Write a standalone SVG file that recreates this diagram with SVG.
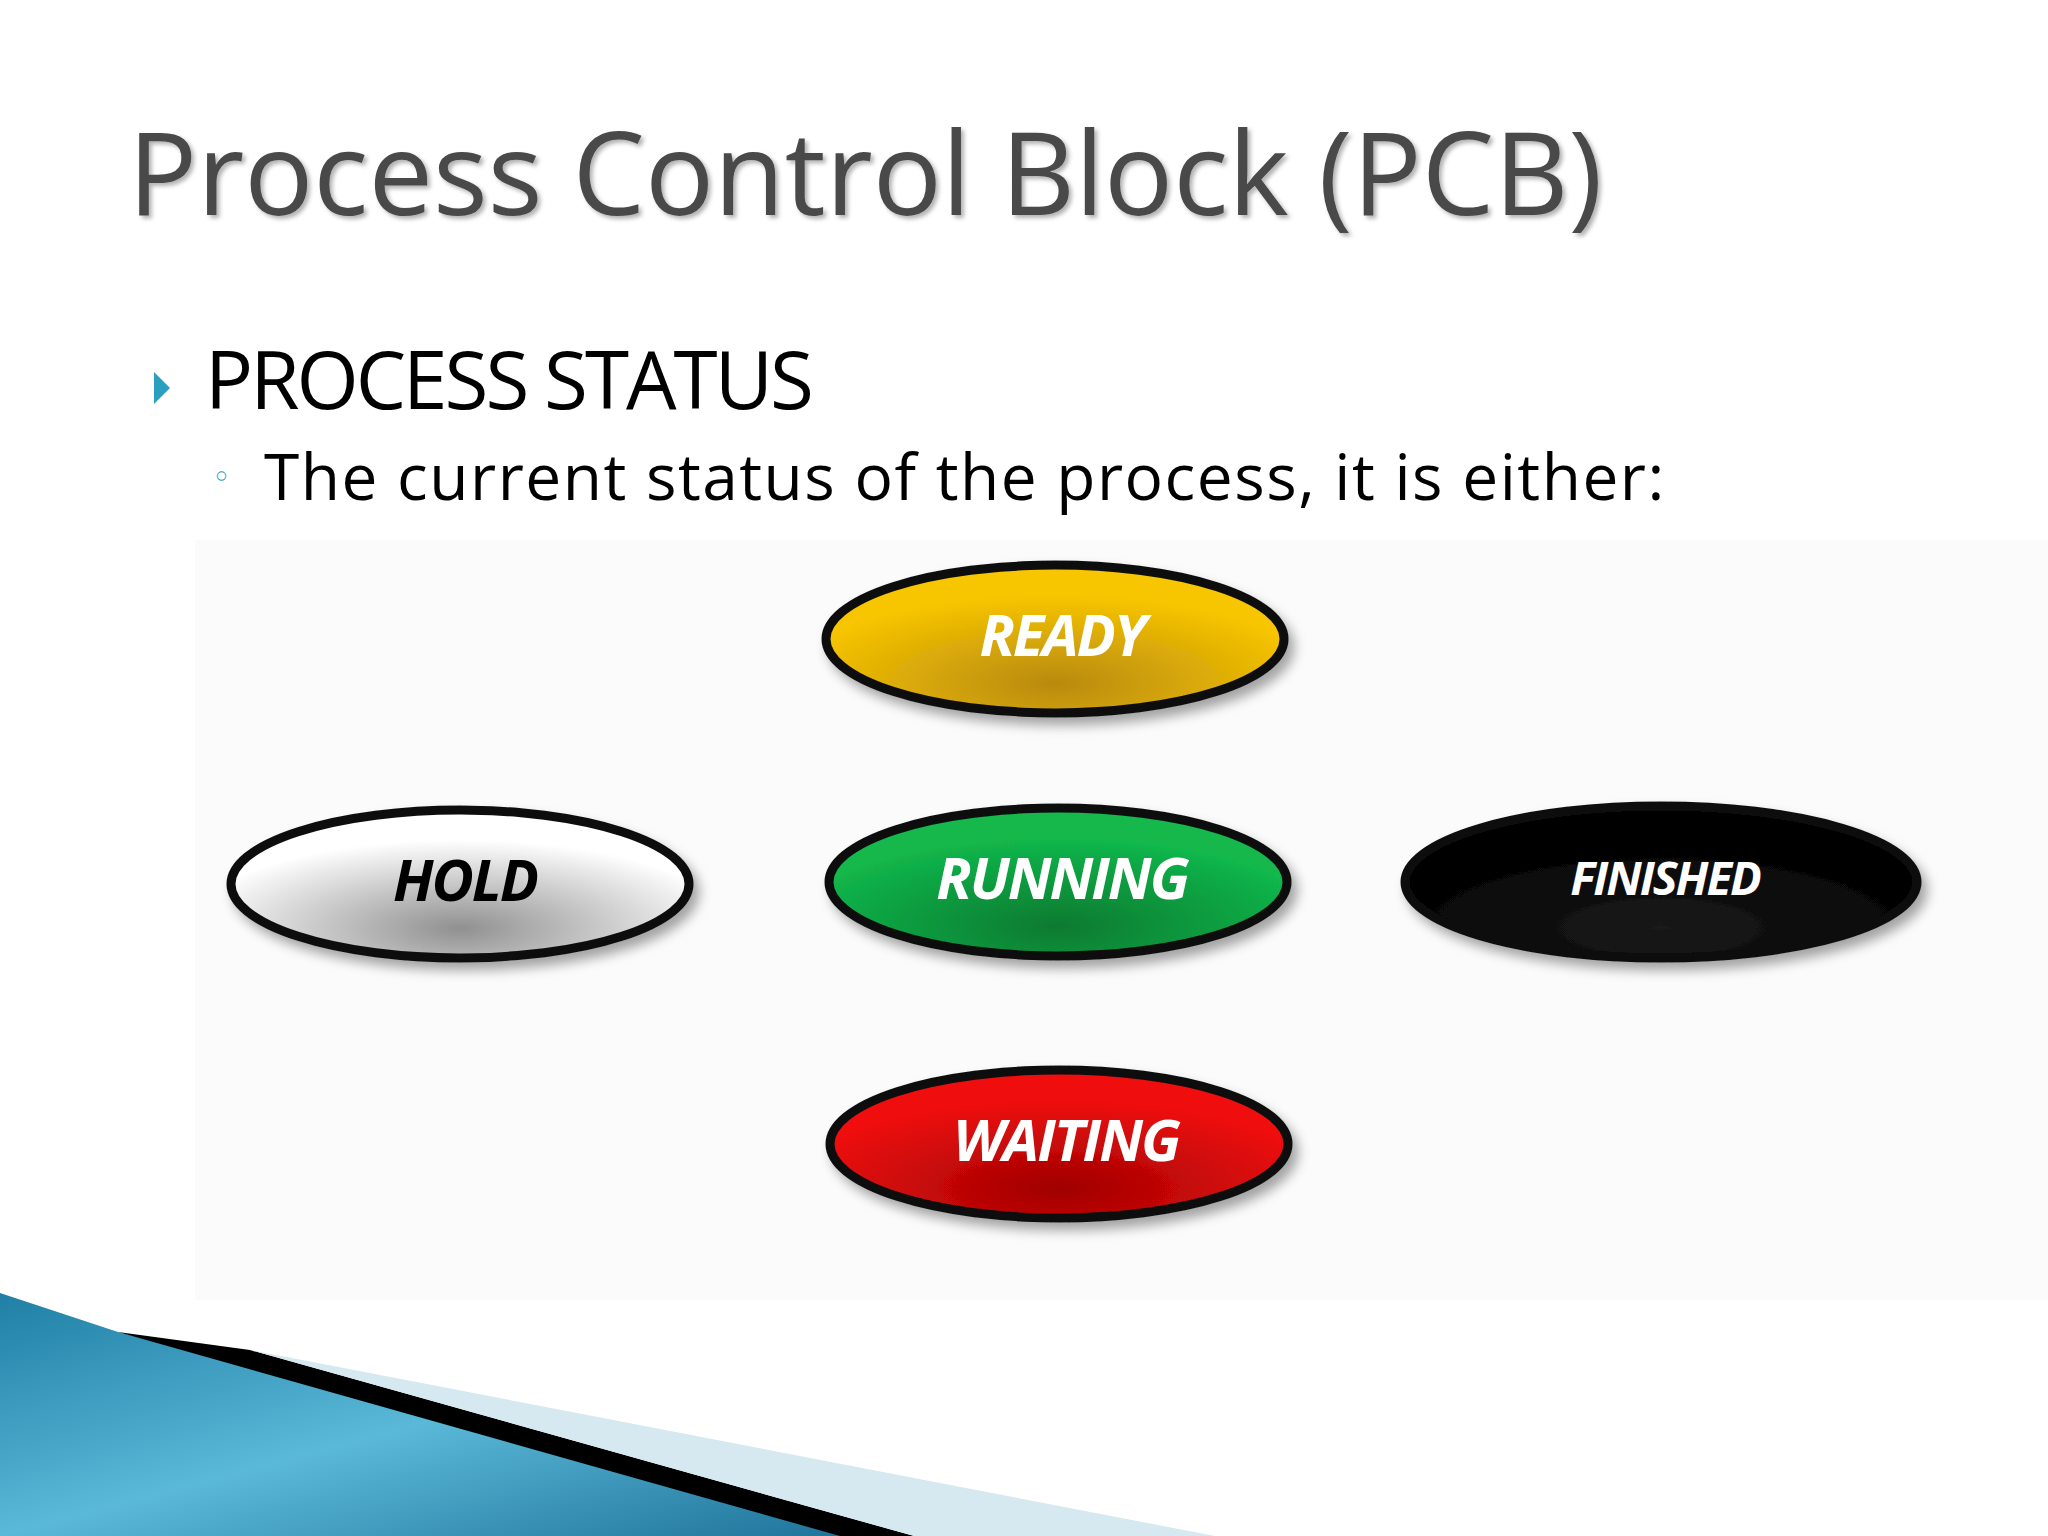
<svg xmlns="http://www.w3.org/2000/svg" width="2048" height="1536" viewBox="0 0 2048 1536">
<defs>
<radialGradient id="gy" cx="0.5" cy="0.8" r="0.6"><stop offset="0" stop-color="#b88a10"/><stop offset="1" stop-color="#f8c600"/></radialGradient>
<radialGradient id="gg" cx="0.5" cy="0.8" r="0.6"><stop offset="0" stop-color="#0a7a30"/><stop offset="1" stop-color="#12b84c"/></radialGradient>
<radialGradient id="gr" cx="0.5" cy="0.8" r="0.6"><stop offset="0" stop-color="#a00000"/><stop offset="1" stop-color="#f01010"/></radialGradient>
<radialGradient id="gw" cx="0.5" cy="0.8" r="0.6"><stop offset="0" stop-color="#909090"/><stop offset="1" stop-color="#ffffff"/></radialGradient>
<radialGradient id="gk" cx="0.5" cy="0.8" r="0.6"><stop offset="0" stop-color="#1a1a1a"/><stop offset="1" stop-color="#000"/></radialGradient>
<linearGradient id="sw" x1="0" y1="0" x2="1" y2="1"><stop offset="0" stop-color="#1f7fa5"/><stop offset="0.5" stop-color="#5ab8d8"/><stop offset="1" stop-color="#1a6e95"/></linearGradient>
<filter id="sh" x="-20%" y="-30%" width="140%" height="170%"><feDropShadow dx="6" dy="8" stdDeviation="6" flood-color="#000" flood-opacity="0.35"/></filter>
<filter id="ts"><feDropShadow dx="3" dy="3" stdDeviation="2" flood-color="#000" flood-opacity="0.3"/></filter>
</defs>
<style>
.n{stroke:#111;stroke-width:9;filter:url(#sh)}
.l{font-family:"Open Sans","DejaVu Sans",sans-serif;font-style:italic;font-weight:bold;font-size:58px;text-anchor:middle;fill:#fff;letter-spacing:-2px}
</style>
<rect width="2048" height="1536" fill="#fff"/>
<rect x="195" y="540" width="1853" height="760" fill="#fbfbfb"/>
<text x="128" y="215" font-family="'Open Sans','DejaVu Sans',sans-serif" font-size="115" fill="#4a4a4a" filter="url(#ts)">Process Control Block (PCB)</text>
<polygon points="154,372 170,388 154,404" fill="#2a9fbf"/>
<text x="205" y="409" font-family="'Open Sans','DejaVu Sans',sans-serif" font-size="80" fill="#000" letter-spacing="-3">PROCESS STATUS</text>
<text x="212" y="488" font-family="'DejaVu Sans',sans-serif" font-size="32" fill="#2a9fbf">◦</text>
<text x="264" y="500" font-family="'Open Sans','DejaVu Sans',sans-serif" font-size="64" fill="#000" letter-spacing="1.5">The current status of the process, it is either:</text>
<g id="ready"><ellipse cx="1055" cy="639" rx="229" ry="74" fill="url(#gy)" class="n"/><text x="1062" y="656" class="l">READY</text></g>
<g id="hold"><ellipse cx="460" cy="884" rx="229" ry="74" fill="url(#gw)" class="n"/><text x="465" y="901" class="l" fill="#000" style="fill:#000">HOLD</text></g>
<g id="running"><ellipse cx="1058" cy="882" rx="229" ry="74" fill="url(#gg)" class="n"/><text x="1062" y="899" class="l">RUNNING</text></g>
<g id="finished"><ellipse cx="1661" cy="882" rx="256" ry="76" fill="url(#gk)" class="n"/><text x="1665" y="895" class="l" font-size="47" style="font-size:47px">FINISHED</text></g>
<g id="waiting"><ellipse cx="1059" cy="1144" rx="229" ry="74" fill="url(#gr)" class="n"/><text x="1066" y="1161" class="l">WAITING</text></g>
<g id="connectors"></g>
<polygon points="0,1293 118,1332 914,1536 0,1536" fill="url(#sw)"/>
<polygon points="118,1332 250,1350 914,1536 840,1536" fill="#000"/>
<polygon points="250,1350 1215,1536 914,1536" fill="#d6e8f0"/>
</svg>
